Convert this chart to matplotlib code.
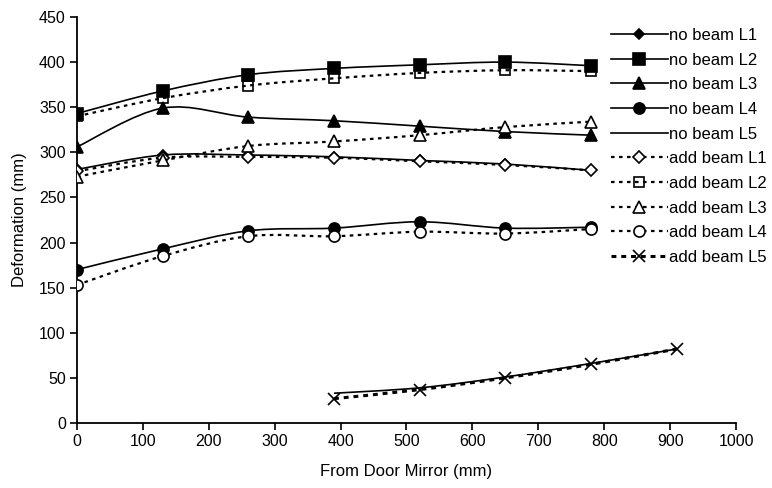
import numpy as np
import matplotlib
matplotlib.use('Agg')
import matplotlib.pyplot as plt
from matplotlib.path import Path
from matplotlib.patches import PathPatch
from matplotlib.lines import Line2D

plt.rcParams['font.family'] = ['Liberation Sans', 'DejaVu Sans']

# distance from the door mirror (mm)
x_main = [0, 130, 260, 390, 520, 650, 780]
x_l5 = [390, 520, 650, 780, 910]

# deformation without the extra beam (mm)
no_beam_l1 = [281, 297, 297, 295, 291, 287, 280]
no_beam_l2 = [343, 368, 386, 393, 397, 400, 396]
no_beam_l3 = [306, 349, 339, 335, 329, 323, 319]
no_beam_l4 = [170, 193, 213, 216, 223, 216, 217]
no_beam_l5 = [33, 39, 51, 66, 82]

# deformation with the added beam (mm)
add_beam_l1 = [279, 294, 295, 294, 290, 286, 280]
add_beam_l2 = [340, 360, 374, 382, 388, 391, 390]
add_beam_l3 = [273, 291, 307, 312, 319, 328, 334]
add_beam_l4 = [153, 185, 207, 207, 212, 210, 215]
add_beam_l5 = [27, 37, 50, 65, 82]


def smooth_path(xs, ys):
    # Excel-style smoothed line: cubic Bezier segments through each point
    pts = np.column_stack([xs, ys]).astype(float)
    n = len(pts)
    verts = [pts[0]]
    codes = [Path.MOVETO]
    for i in range(n - 1):
        p0 = pts[i - 1] if i > 0 else pts[i]
        p1 = pts[i]
        p2 = pts[i + 1]
        p3 = pts[i + 2] if i + 2 < n else pts[i + 1]
        verts += [p1 + (p2 - p0) / 6, p2 - (p3 - p1) / 6, p2]
        codes += [Path.CURVE4] * 3
    return Path(verts, codes)


solid = dict(color='black', linestyle='-', linewidth=1.2)
dotted = dict(color='black', linestyle=(0, (1.6, 2.0)), linewidth=1.6)
dotted_l5 = dict(color='black', linestyle=(0, (1.6, 1.6)), linewidth=2.2)

series = [
    (x_main, no_beam_l1, 'no beam L1', solid, dict(marker='D', markersize=5.5, markerfacecolor='black')),
    (x_main, no_beam_l2, 'no beam L2', solid, dict(marker='s', markersize=8, markerfacecolor='black')),
    (x_main, no_beam_l3, 'no beam L3', solid, dict(marker='^', markersize=8, markerfacecolor='black')),
    (x_main, no_beam_l4, 'no beam L4', solid, dict(marker='o', markersize=8, markerfacecolor='black')),
    (x_l5, no_beam_l5, 'no beam L5', solid, dict(marker=None)),
    (x_main, add_beam_l1, 'add beam L1', dotted, dict(marker='D', markersize=6.5, markerfacecolor='white')),
    (x_main, add_beam_l2, 'add beam L2', dotted, dict(marker='s', markersize=7.5, markerfacecolor='none')),
    (x_main, add_beam_l3, 'add beam L3', dotted, dict(marker='^', markersize=8, markerfacecolor='white')),
    (x_main, add_beam_l4, 'add beam L4', dotted, dict(marker='o', markersize=8, markerfacecolor='white')),
    (x_l5, add_beam_l5, 'add beam L5', dotted_l5, dict(marker='x', markersize=8)),
]

fig = plt.figure(figsize=(7.72, 4.88), dpi=100)
ax = fig.add_axes([0.0997, 0.1332, 0.8537, 0.832])

for k, (xs, ys, label, lstyle, mstyle) in enumerate(series):
    z = 2 + k
    patch = PathPatch(smooth_path(xs, ys), facecolor='none', edgecolor=lstyle['color'],
                      linestyle=lstyle['linestyle'], linewidth=lstyle['linewidth'], zorder=z)
    ax.add_patch(patch)
    if mstyle['marker'] is not None:
        ax.plot(xs, ys, linestyle='none', color='black', markeredgecolor='black',
                markeredgewidth=1.2, zorder=z + 0.5, **mstyle)

ax.set_xlim(0, 1000)
ax.set_ylim(0, 450)
ax.set_xticks(np.arange(0, 1001, 100))
ax.set_yticks(np.arange(0, 451, 50))
ax.spines['top'].set_visible(False)
ax.spines['right'].set_visible(False)
for s in ('left', 'bottom'):
    ax.spines[s].set_linewidth(1.3)
ax.tick_params(direction='out', length=5, width=1.2, labelsize=11.5, pad=3)
ax.set_xlabel('From Door Mirror (mm)', fontsize=12, labelpad=11)
ax.set_ylabel('Deformation (mm)', fontsize=12, labelpad=9)

leg_handles = []
for xs, ys, label, lstyle, mstyle in series:
    h = Line2D([], [], color='black', linestyle=lstyle['linestyle'],
               linewidth=lstyle['linewidth'], markeredgecolor='black',
               markeredgewidth=1.2, label=label, **mstyle)
    leg_handles.append(h)

fig.legend(handles=leg_handles, loc='upper left', bbox_to_anchor=(611 / 772, 1 - 28 / 488),
           frameon=False, fontsize=12, handlelength=3.4, handletextpad=0.1,
           labelspacing=0.58, borderpad=0, borderaxespad=0, numpoints=1)

fig.savefig('out.png', dpi=100)
